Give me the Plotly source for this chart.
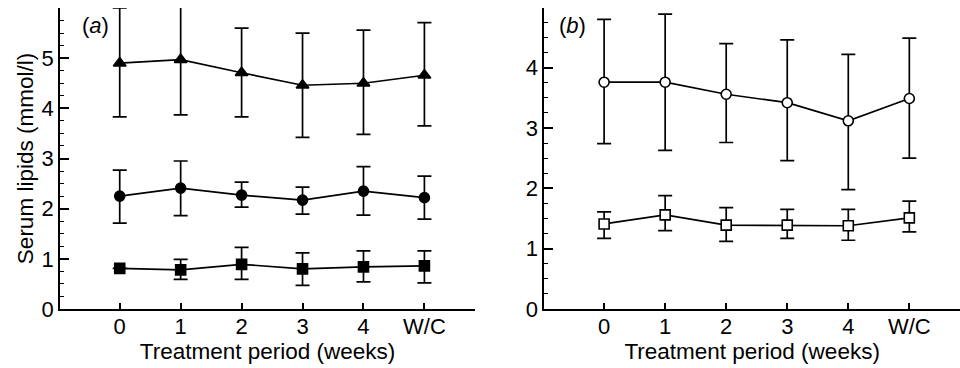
import plotly.graph_objects as go

# ---- data ----
weeks = ["0", "1", "2", "3", "4", "W/C"]
xpos = [0, 1, 2, 3, 4, 5]

# panel (a)
tri_mean = [4.90, 4.97, 4.71, 4.46, 4.50, 4.66]
tri_up = [1.10, 1.05, 0.89, 1.04, 1.06, 1.05]
tri_lo = [1.07, 1.10, 0.88, 1.04, 1.02, 1.01]

dot_mean = [2.25, 2.41, 2.27, 2.17, 2.35, 2.22]
dot_up = [0.52, 0.54, 0.26, 0.26, 0.49, 0.43]
dot_lo = [0.54, 0.55, 0.24, 0.28, 0.48, 0.43]

sq_mean = [0.81, 0.78, 0.89, 0.80, 0.84, 0.86]
sq_up = [0.0, 0.21, 0.34, 0.32, 0.32, 0.30]
sq_lo = [0.0, 0.19, 0.30, 0.33, 0.30, 0.34]

# panel (b)
oc_mean = [3.76, 3.76, 3.56, 3.42, 3.12, 3.49]
oc_up = [1.04, 1.13, 0.84, 1.04, 1.10, 1.00]
oc_lo = [1.02, 1.13, 0.80, 0.96, 1.14, 0.99]

os_mean = [1.41, 1.56, 1.39, 1.39, 1.38, 1.51]
os_up = [0.20, 0.32, 0.29, 0.26, 0.27, 0.28]
os_lo = [0.24, 0.26, 0.27, 0.22, 0.24, 0.23]

FONT = "Liberation Sans"
FS_TICK = 22
FS_TITLE = 22.5
LW = 1.7

fig = go.Figure()


def add(mean, up, lo, symbol, size, xa, ya, filled=True):
    fig.add_trace(go.Scatter(
        x=xpos, y=mean, mode="lines+markers",
        xaxis=xa, yaxis=ya,
        line=dict(color="black", width=LW),
        marker=dict(symbol=symbol, size=size,
                    color="black" if filled else "white",
                    line=dict(color="black", width=1.6)),
        error_y=dict(type="data", symmetric=False, array=up, arrayminus=lo,
                     color="black", thickness=LW, width=7),
        cliponaxis=False, showlegend=False,
    ))


add(tri_mean, tri_up, tri_lo, "triangle-up", 11, "x", "y")
add(dot_mean, dot_up, dot_lo, "circle", 10, "x", "y")
add(sq_mean, sq_up, sq_lo, "square", 10, "x", "y")
add(oc_mean, oc_up, oc_lo, "circle", 10, "x2", "y2", filled=False)
add(os_mean, os_up, os_lo, "square", 10, "x2", "y2", filled=False)

xcommon = dict(
    range=[-0.98, 5.83], tickvals=xpos, ticktext=weeks,
    ticks="inside", ticklen=6, tickwidth=LW, tickcolor="black",
    showline=True, linecolor="black", linewidth=LW,
    showgrid=False, zeroline=False, ticklabelstandoff=-3,
    tickfont=dict(family=FONT, size=FS_TICK, color="black"),
    title=dict(text="Treatment period (weeks)",
               font=dict(family=FONT, size=FS_TITLE, color="black"), standoff=2),
)
ycommon = dict(
    dtick=1, tick0=0,
    ticks="inside", ticklen=9, tickwidth=LW, tickcolor="black",
    showline=True, linecolor="black", linewidth=LW,
    showgrid=False, zeroline=False,
    minor=dict(dtick=0.25, ticks="inside", ticklen=4, tickwidth=1.2,
               tickcolor="black", showgrid=False),
    tickfont=dict(family=FONT, size=FS_TICK, color="black"),
)

fig.update_layout(
    width=960, height=368,
    margin=dict(l=60, r=0, t=8, b=59),
    paper_bgcolor="white", plot_bgcolor="white",
    xaxis=dict(domain=[0, 0.4611], anchor="y", **xcommon),
    xaxis2=dict(domain=[0.5381, 1.0], anchor="y2", **xcommon),
    yaxis=dict(domain=[0, 1], anchor="x", range=[0, 6.0],
               tickvals=[0, 1, 2, 3, 4, 5],
               title=dict(text="Serum lipids (mmol/l)",
                          font=dict(family=FONT, size=FS_TITLE, color="black"),
                          standoff=2),
               **ycommon),
    yaxis2=dict(domain=[0, 1], anchor="x2", range=[0, 4.99],
                tickvals=[0, 1, 2, 3, 4], **ycommon),
    annotations=[
        dict(text="(<i>a</i>)", xref="paper", yref="paper", x=0.0389, y=0.9435,
             showarrow=False, xanchor="center", yanchor="middle",
             font=dict(family=FONT, size=FS_TICK, color="black")),
        dict(text="(<i>b</i>)", xref="paper", yref="paper", x=0.5697, y=0.9435,
             showarrow=False, xanchor="center", yanchor="middle",
             font=dict(family=FONT, size=FS_TICK, color="black")),
    ],
)

fig.write_html("out.html")
